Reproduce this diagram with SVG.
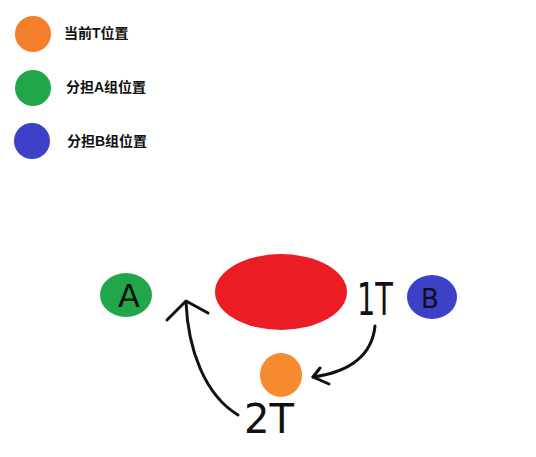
<svg xmlns="http://www.w3.org/2000/svg" width="536" height="457" viewBox="0 0 536 457">
<style>
.lg{font-family:"Liberation Sans","Noto Sans CJK SC",sans-serif;font-size:14px;font-weight:bold;fill:#111}
.hw{font-family:"DejaVu Sans",sans-serif;font-weight:normal;fill:#111;text-anchor:middle}
.ar{fill:none;stroke:#111;stroke-width:3;stroke-linecap:round;stroke-linejoin:round}
</style>
<rect width="536" height="457" fill="#fff"/>
<g id="legend-current">
<circle cx="33" cy="34" r="18" fill="#f47f2a"/>
<text class="lg" x="64" y="38">当前T位置</text>
</g>
<g id="legend-A">
<circle cx="33" cy="88" r="18" fill="#22a64a"/>
<text class="lg" x="66" y="92">分担A组位置</text>
</g>
<g id="legend-B">
<circle cx="32" cy="141" r="18" fill="#3c41c8"/>
<text class="lg" x="67" y="146">分担B组位置</text>
</g>
<g id="center">
<ellipse cx="281" cy="292" rx="66" ry="38" fill="#ec1c24"/>
</g>
<g id="nodeA">
<ellipse cx="126" cy="295" rx="26" ry="22" fill="#22a64a"/>
<text class="hw" x="129" y="307" font-size="32">A</text>
</g>
<g id="nodeB">
<ellipse cx="432" cy="297" rx="25" ry="22" fill="#3c41c8"/>
<text class="hw" x="430" y="308" font-size="26">B</text>
</g>
<g id="nodeT">
<ellipse cx="281" cy="375" rx="21" ry="22" fill="#f68a2e"/>
</g>
<g id="label1T"><text class="hw" x="375" y="315" font-size="44" textLength="36" lengthAdjust="spacingAndGlyphs">1T</text></g>
<g id="label2T"><text class="hw" x="269" y="433" font-size="41" textLength="50" lengthAdjust="spacingAndGlyphs">2T</text></g>
<g id="connectors">
<path class="ar" d="M238 415 C205 395 188 350 186 302"/>
<path class="ar" d="M167 320 L186 301 L208 313"/>
<path class="ar" d="M375 326 C372 355 350 372 313 377"/>
<path class="ar" d="M320 368 L313 377 L329 384"/>
</g>
</svg>
